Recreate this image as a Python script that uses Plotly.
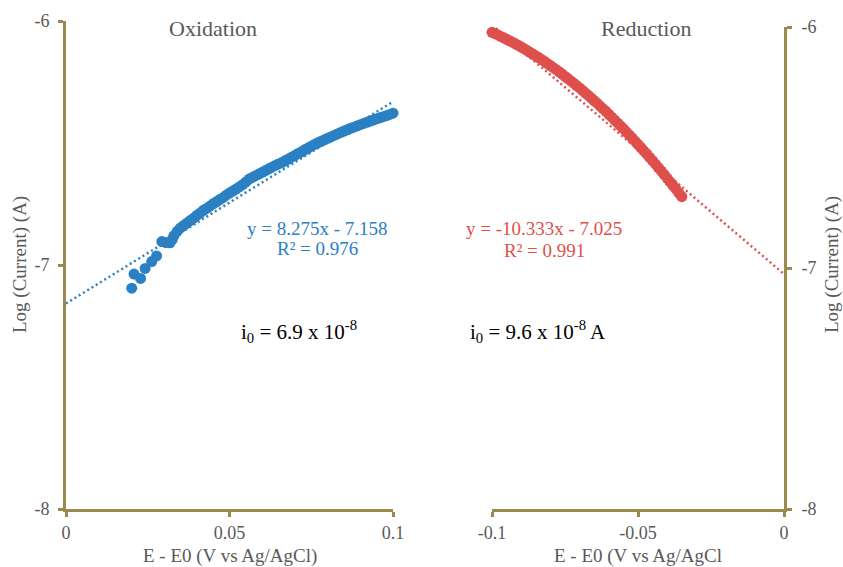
import plotly.graph_objects as go

# ---------------- data ----------------
# Oxidation branch: overpotential (V vs Ag/AgCl) and log current (A)
ox_potential = [
    0.0201, 0.0208, 0.0228, 0.0242, 0.0262, 0.0277, 0.0293, 0.0305, 0.0318, 0.0325,
    0.033, 0.034, 0.035, 0.036, 0.037, 0.038, 0.039, 0.040, 0.041, 0.042,
    0.043, 0.044, 0.045, 0.046, 0.047, 0.048, 0.049, 0.050, 0.051, 0.052,
    0.053, 0.054, 0.055, 0.056, 0.057, 0.058, 0.059, 0.060, 0.061, 0.062,
    0.063, 0.064, 0.065, 0.066, 0.067, 0.068, 0.069, 0.070, 0.071, 0.072,
    0.073, 0.074, 0.075, 0.076, 0.077, 0.078, 0.079, 0.080, 0.081, 0.082,
    0.083, 0.084, 0.085, 0.086, 0.087, 0.088, 0.089, 0.090, 0.091, 0.092,
    0.093, 0.094, 0.095, 0.096, 0.097, 0.098, 0.099, 0.100,
]
ox_log_current = [
    -7.095, -7.037, -7.055, -7.014, -6.986, -6.963, -6.904, -6.908, -6.909, -6.895,
    -6.880, -6.862, -6.848, -6.838, -6.828, -6.818, -6.808, -6.797, -6.787, -6.776,
    -6.768, -6.759, -6.749, -6.741, -6.732, -6.724, -6.714, -6.705, -6.697, -6.689,
    -6.680, -6.671, -6.660, -6.648, -6.641, -6.634, -6.627, -6.620, -6.613, -6.606,
    -6.599, -6.592, -6.586, -6.580, -6.573, -6.566, -6.558, -6.551, -6.543, -6.536,
    -6.528, -6.521, -6.513, -6.506, -6.499, -6.493, -6.487, -6.481, -6.475, -6.469,
    -6.463, -6.457, -6.451, -6.446, -6.440, -6.435, -6.430, -6.425, -6.420, -6.415,
    -6.410, -6.406, -6.401, -6.397, -6.392, -6.388, -6.383, -6.378,
]

# Reduction branch
red_potential = [
    -0.100, -0.099, -0.098, -0.097, -0.096, -0.095, -0.094, -0.093, -0.092, -0.091,
    -0.090, -0.089, -0.088, -0.087, -0.086, -0.085, -0.084, -0.083, -0.082, -0.081,
    -0.080, -0.079, -0.078, -0.077, -0.076, -0.075, -0.074, -0.073, -0.072, -0.071,
    -0.070, -0.069, -0.068, -0.067, -0.066, -0.065, -0.064, -0.063, -0.062, -0.061,
    -0.060, -0.059, -0.058, -0.057, -0.056, -0.055, -0.054, -0.053, -0.052, -0.051,
    -0.050, -0.049, -0.048, -0.047, -0.046, -0.045, -0.044, -0.043, -0.042, -0.041,
    -0.040, -0.039, -0.038, -0.037, -0.036, -0.035,
]
red_log_current = [
    -6.022, -6.027, -6.033, -6.039, -6.045, -6.051, -6.057, -6.063, -6.070, -6.076,
    -6.083, -6.090, -6.097, -6.105, -6.112, -6.120, -6.127, -6.135, -6.143, -6.152,
    -6.160, -6.169, -6.177, -6.186, -6.195, -6.205, -6.214, -6.224, -6.233, -6.243,
    -6.253, -6.263, -6.274, -6.284, -6.295, -6.306, -6.316, -6.328, -6.339, -6.350,
    -6.362, -6.374, -6.386, -6.398, -6.410, -6.422, -6.435, -6.448, -6.461, -6.474,
    -6.487, -6.500, -6.514, -6.527, -6.541, -6.555, -6.569, -6.584, -6.598, -6.613,
    -6.628, -6.643, -6.658, -6.673, -6.689, -6.704,
]

# Linear (Tafel) fits
ox_slope, ox_intercept, ox_r2 = 8.275, -7.158, 0.976
red_slope, red_intercept, red_r2 = -10.333, -7.025, 0.991
ox_fit_x = [0.0, 0.1]
red_fit_x = [-0.1, 0.0]

# Axis ticks
ox_ticks = [0, 0.05, 0.1]
ox_ticktext = ["0", "0.05", "0.1"]
red_ticks = [-0.1, -0.05, 0]
red_ticktext = ["-0.1", "-0.05", "0"]
y_ticks = [-8, -7, -6]
y_ticktext = ["-8", "-7", "-6"]

# ---------------- styling ----------------
W, H = 843, 567
BLUE = "#2A80C3"
RED = "#DF4F4C"
AXIS = "#9A8A4D"
GREY = "#595959"
FONT = "Liberation Serif, Times New Roman, serif"


def px_x(p):
    return p / W


def px_y(p):
    return 1 - p / H


fig = go.Figure()

fig.add_trace(go.Scatter(
    x=ox_potential, y=ox_log_current, mode="markers", cliponaxis=False,
    marker=dict(color=BLUE, size=11, line=dict(width=0)),
    xaxis="x", yaxis="y", showlegend=False,
))
fig.add_trace(go.Scatter(
    x=ox_fit_x, y=[ox_slope * v + ox_intercept for v in ox_fit_x], mode="lines",
    line=dict(color=BLUE, width=2.5, dash="2px,3px"), cliponaxis=False,
    xaxis="x", yaxis="y", showlegend=False,
))
fig.add_trace(go.Scatter(
    x=red_potential, y=red_log_current, mode="markers", cliponaxis=False,
    marker=dict(color=RED, size=11, line=dict(width=0)),
    xaxis="x2", yaxis="y2", showlegend=False,
))
fig.add_trace(go.Scatter(
    x=red_fit_x, y=[red_slope * v + red_intercept for v in red_fit_x], mode="lines",
    line=dict(color=RED, width=2.5, dash="2px,3px"), cliponaxis=False,
    xaxis="x2", yaxis="y2", showlegend=False,
))

axis_common = dict(
    showline=True, linecolor=AXIS, linewidth=3,
    ticks="outside", tickcolor=AXIS, tickwidth=3, ticklen=5,
    showgrid=False, zeroline=False, automargin=False,
    tickfont=dict(family=FONT, size=18, color=GREY),
    fixedrange=True,
)

fig.update_layout(
    width=W, height=H,
    margin=dict(l=0, r=0, t=0, b=0),
    paper_bgcolor="white", plot_bgcolor="white",
    xaxis=dict(domain=[px_x(66), px_x(393)], range=[0, 0.1],
               tickvals=ox_ticks, ticktext=ox_ticktext, anchor="y", **axis_common),
    yaxis=dict(domain=[px_y(509), px_y(21)], range=[-8, -6], ticklabelstandoff=5,
               tickvals=y_ticks, ticktext=y_ticktext, anchor="x", **axis_common),
    xaxis2=dict(domain=[px_x(492), px_x(784)], range=[-0.1, 0],
                tickvals=red_ticks, ticktext=red_ticktext, anchor="y2", **axis_common),
    yaxis2=dict(domain=[px_y(509), px_y(27)], range=[-8, -6], side="right",
                ticklabelstandoff=6,
                tickvals=y_ticks, ticktext=y_ticktext, anchor="x2", **axis_common),
)


def note(text, x, y, size, color, angle=0, yanchor="middle"):
    fig.add_annotation(
        text=text, x=px_x(x), y=px_y(y), xref="paper", yref="paper",
        xanchor="center", yanchor=yanchor, showarrow=False, textangle=angle,
        font=dict(family=FONT, size=size, color=color),
    )


# panel titles
note("Oxidation", 213, 29, 22, GREY)
note("Reduction", 646, 29, 22, GREY)

# axis titles
note("Log (Current) (A)", 20, 265, 19, GREY, angle=-90)
note("Log (Current) (A)", 832, 265, 19, GREY, angle=-90)
note("E - E0 (V vs Ag/AgCl)", 230, 556, 19, GREY)
note("E - E0 (V vs Ag/AgCl", 638, 556, 19, GREY)

# fit equations
note(f"y = {ox_slope:.3f}x - {abs(ox_intercept):.3f}", 317, 228, 19, BLUE)
note(f"R² = {ox_r2:.3f}", 317, 249, 19, BLUE)
note(f"y = {red_slope:.3f}x - {abs(red_intercept):.3f}", 544, 229, 19, RED)
note(f"R² = {red_r2:.3f}", 544, 250, 19, RED)

# exchange current densities
note("i<sub>0</sub> = 6.9 x 10<sup>-8</sup>", 299, 331, 21, "black")
note("i<sub>0</sub> = 9.6 x 10<sup>-8</sup> A", 538, 331, 21, "black")

fig.write_html("out.html")
